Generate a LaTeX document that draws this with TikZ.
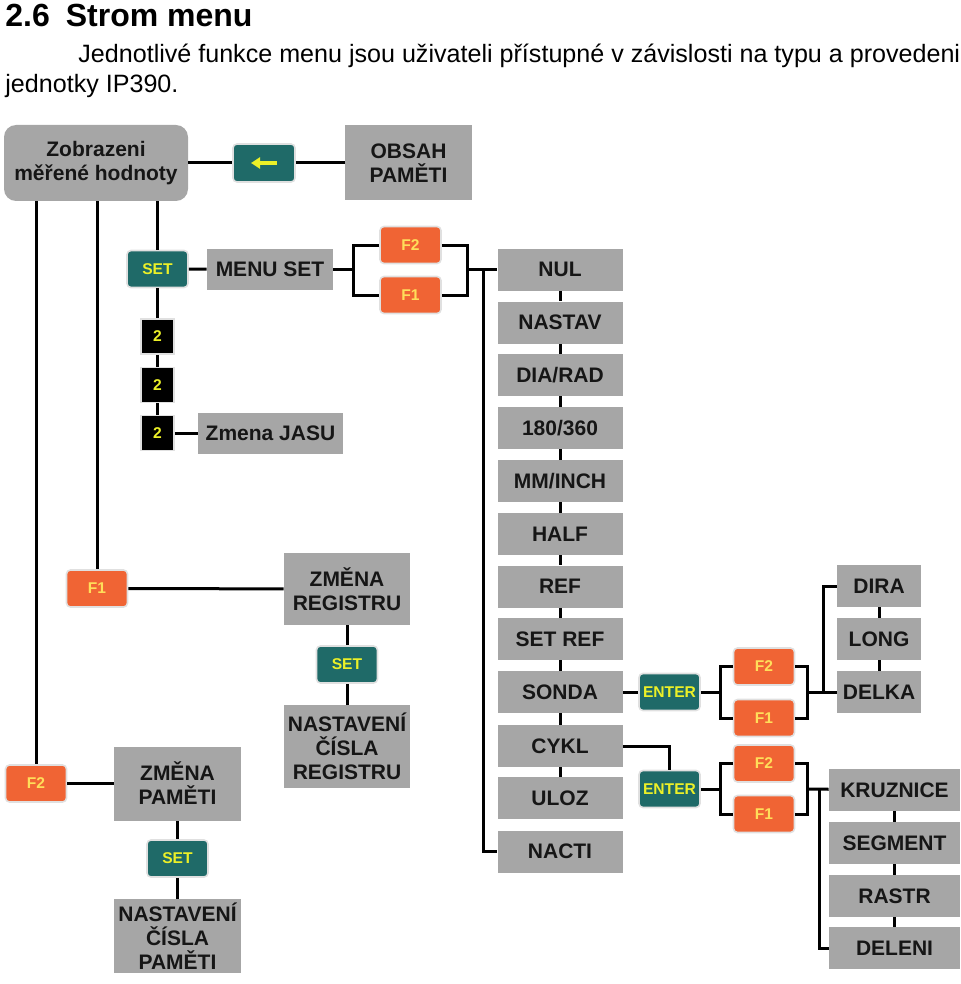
\documentclass[tikz,border=0pt]{standalone}
\usepackage{fontspec}
\setmainfont{Liberation Sans}
\usepackage{xcolor}
\usepackage{tikz}
\usetikzlibrary{arrows.meta, calc}

\definecolor{boxgray}{RGB}{166,166,166}
\definecolor{keyteal}{RGB}{31,106,104}
\definecolor{keyorange}{RGB}{240,100,52}
\definecolor{tealtext}{RGB}{236,240,40}
\definecolor{orangetext}{RGB}{255,222,90}
\definecolor{labelink}{RGB}{22,22,22}

\newcommand{\menufont}{\bfseries\fontsize{10.5}{12}\selectfont}
\newcommand{\btnfont}{\bfseries\fontsize{7.8}{9}\selectfont}

\begin{document}
\begin{tikzpicture}[x=0.5pt, y=-0.5pt,
    menubox/.style={fill=boxgray, inner sep=0pt, align=center, font=\menufont, text=labelink},
    colbox/.style={menubox, minimum width=62.5pt, minimum height=21pt},
    keybtn/.style={rounded corners=2pt, inner sep=0pt, font=\btnfont, draw=black!12, line width=0.8pt,
      minimum width=30.5pt, minimum height=18.5pt},
    tealkey/.style={keybtn, fill=keyteal, text=tealtext},
    orangekey/.style={keybtn, fill=keyorange, text=orangetext},
    numkey/.style={fill=black, draw=black!12, line width=0.8pt, text=tealtext, font=\btnfont,
      inner sep=0pt, minimum width=16.5pt, minimum height=17.5pt},
    wire/.style={line width=1.5pt}]
  \useasboundingbox (0,0) rectangle (960,984);

  % Heading and text
  \node[anchor=base west, inner sep=0pt, font=\bfseries\fontsize{16}{19}\selectfont] (title) at (5,27) {2.6\hspace{8pt}Strom menu};
  \node[anchor=base west, inner sep=0pt, font=\fontsize{12.55}{15}\selectfont] (para1) at (78,63)
    {Jednotlivé funkce menu jsou uživateli přístupné v závislosti na typu a provedeni};
  \node[anchor=base west, inner sep=0pt, font=\fontsize{12.55}{15}\selectfont] (para2) at (5,93) {jednotky IP390.};

  % Display and memory content
  \node[menubox, rounded corners=6pt, minimum width=92pt, minimum height=38pt] (disp) at (96,163) {Zobrazeni\\měřené hodnoty};
  \node[tealkey, minimum width=31pt, minimum height=19pt] (back) at (264,163) {};
  \node[menubox, minimum width=63.5pt, minimum height=37.5pt] (obsah) at (408.5,163) {OBSAH\\PAMĚTI};
  \draw[tealtext, line width=1.6pt, -{Triangle[length=4.5pt, width=5.5pt]}] ($(back.center)+(13,0)$) -- ($(back.center)+(-13,0)$);

  % SET branch
  \node[tealkey] (set1) at (157.5,269) {SET};
  \node[menubox, minimum width=63pt, minimum height=20.5pt] (menuset) at (270,269.5) {MENU SET};
  \node[orangekey] (f2a) at (410.5,245) {F2};
  \node[orangekey] (f1a) at (410.5,295) {F1};
  \node[numkey] (two1) at (157.5,336.5) {2};
  \node[numkey] (two2) at (157.5,385) {2};
  \node[numkey] (two3) at (157.5,433) {2};
  \node[menubox, minimum width=72.5pt, minimum height=20.5pt] (jasu) at (270.5,433) {Zmena JASU};

  % Menu column
  \node[colbox] (nul) at (560,269.5) {NUL};
  \node[colbox] (nastav) at (560,322.5) {NASTAV};
  \node[colbox] (diarad) at (560,375) {DIA/RAD};
  \node[colbox] (deg) at (560,428) {180/360};
  \node[colbox] (mminch) at (560,481) {MM/INCH};
  \node[colbox] (half) at (560,534) {HALF};
  \node[colbox] (ref) at (560,586.5) {REF};
  \node[colbox] (setref) at (560,639) {SET REF};
  \node[colbox] (sonda) at (560,692) {SONDA};
  \node[colbox] (cykl) at (560,746) {CYKL};
  \node[colbox] (uloz) at (560,798) {ULOZ};
  \node[colbox] (nacti) at (560,851.5) {NACTI};

  % SONDA branch
  \node[tealkey] (ent1) at (669.5,692) {ENTER};
  \node[orangekey] (f2s) at (764,666.5) {F2};
  \node[orangekey] (f1s) at (764,718) {F1};
  \node[menubox, minimum width=42pt, minimum height=21pt] (dira) at (879,586) {DIRA};
  \node[menubox, minimum width=42pt, minimum height=21pt] (long) at (879,639) {LONG};
  \node[menubox, minimum width=42pt, minimum height=21pt] (delka) at (879,692) {DELKA};

  % CYKL branch
  \node[tealkey] (ent2) at (669.5,789) {ENTER};
  \node[orangekey] (f2c) at (764,763.5) {F2};
  \node[orangekey] (f1c) at (764,814) {F1};
  \node[menubox, minimum width=65.5pt, minimum height=21pt] (kruz) at (894.5,790) {KRUZNICE};
  \node[menubox, minimum width=65.5pt, minimum height=21pt] (segment) at (894.5,843) {SEGMENT};
  \node[menubox, minimum width=65.5pt, minimum height=21pt] (rastr) at (894.5,896) {RASTR};
  \node[menubox, minimum width=65.5pt, minimum height=21pt] (deleni) at (894.5,948) {DELENI};

  % Register and memory
  \node[orangekey] (f1l) at (97,588.5) {F1};
  \node[menubox, minimum width=63pt, minimum height=36pt] (zmreg) at (347,589) {ZMĚNA\\REGISTRU};
  \node[tealkey] (setreg) at (347,664.5) {SET};
  \node[menubox, minimum width=63pt, minimum height=41.5pt] (nasreg) at (347,746.5) {NASTAVENÍ\\ČÍSLA\\REGISTRU};
  \node[orangekey] (f2l) at (36,783.5) {F2};
  \node[menubox, minimum width=63.5pt, minimum height=37pt] (zmpam) at (177.5,783.5) {ZMĚNA\\PAMĚTI};
  \node[tealkey] (setpam) at (177.5,858.5) {SET};
  \node[menubox, minimum width=63.5pt, minimum height=37pt] (naspam) at (177.5,936) {NASTAVENÍ\\ČÍSLA\\PAMĚTI};

  % Bracket points
  \coordinate (msl) at (353,269.5);
  \coordinate (msr) at (467,269.5);
  \coordinate (trunk) at (483,269.5);
  \coordinate (s1l) at (720,692);
  \coordinate (s1r) at (807,692);
  \coordinate (s1t) at (823,692);
  \coordinate (c1l) at (720,789);
  \coordinate (c1r) at (807,789);
  \coordinate (c1t) at (819,789);

  % Connectors
  \draw[wire] (disp) -- (back);
  \draw[wire] (back) -- (obsah);
  \draw[wire] (disp.south -| set1) -- (set1);
  \draw[wire] (disp.south -| f1l) -- (f1l);
  \draw[wire] (disp.south -| f2l) -- (f2l);
  \draw[wire] (set1) -- (menuset);
  \draw[wire] (set1) -- (two1);
  \draw[wire] (two1) -- (two2);
  \draw[wire] (two2) -- (two3);
  \draw[wire] (two3) -- (jasu);
  \draw[wire] (menuset) -- (msl);
  \draw[wire] (f2a) -| (msl) |- (f1a);
  \draw[wire] (f2a) -| (msr) |- (f1a);
  \draw[wire] (msr) -- (nul);
  \draw[wire] (trunk) |- (nacti);

  \draw[wire] (nul) -- (nastav);
  \draw[wire] (nastav) -- (diarad);
  \draw[wire] (diarad) -- (deg);
  \draw[wire] (deg) -- (mminch);
  \draw[wire] (mminch) -- (half);
  \draw[wire] (half) -- (ref);
  \draw[wire] (ref) -- (setref);
  \draw[wire] (setref) -- (sonda);
  \draw[wire] (sonda) -- (cykl);
  \draw[wire] (cykl) -- (uloz);

  \draw[wire] (sonda) -- (ent1);
  \draw[wire] (ent1) -- (s1l);
  \draw[wire] (f2s) -| (s1l) |- (f1s);
  \draw[wire] (f2s) -| (s1r) |- (f1s);
  \draw[wire] (s1r) -- (delka);
  \draw[wire] (dira) -| (s1t);
  \draw[wire] (dira) -- (long);
  \draw[wire] (long) -- (delka);

  \draw[wire] (cykl) -| (ent2);
  \draw[wire] (ent2) -- (c1l);
  \draw[wire] (f2c) -| (c1l) |- (f1c);
  \draw[wire] (f2c) -| (c1r) |- (f1c);
  \draw[wire] (c1r) -- (kruz);
  \draw[wire] (c1t) |- (deleni);
  \draw[wire] (kruz) -- (segment);
  \draw[wire] (segment) -- (rastr);
  \draw[wire] (rastr) -- (deleni);

  \draw[wire] (f1l) -- (zmreg);
  \draw[wire] (zmreg) -- (setreg);
  \draw[wire] (setreg) -- (nasreg);
  \draw[wire] (f2l) -- (zmpam);
  \draw[wire] (zmpam) -- (setpam);
  \draw[wire] (setpam) -- (naspam);
\end{tikzpicture}
\end{document}
